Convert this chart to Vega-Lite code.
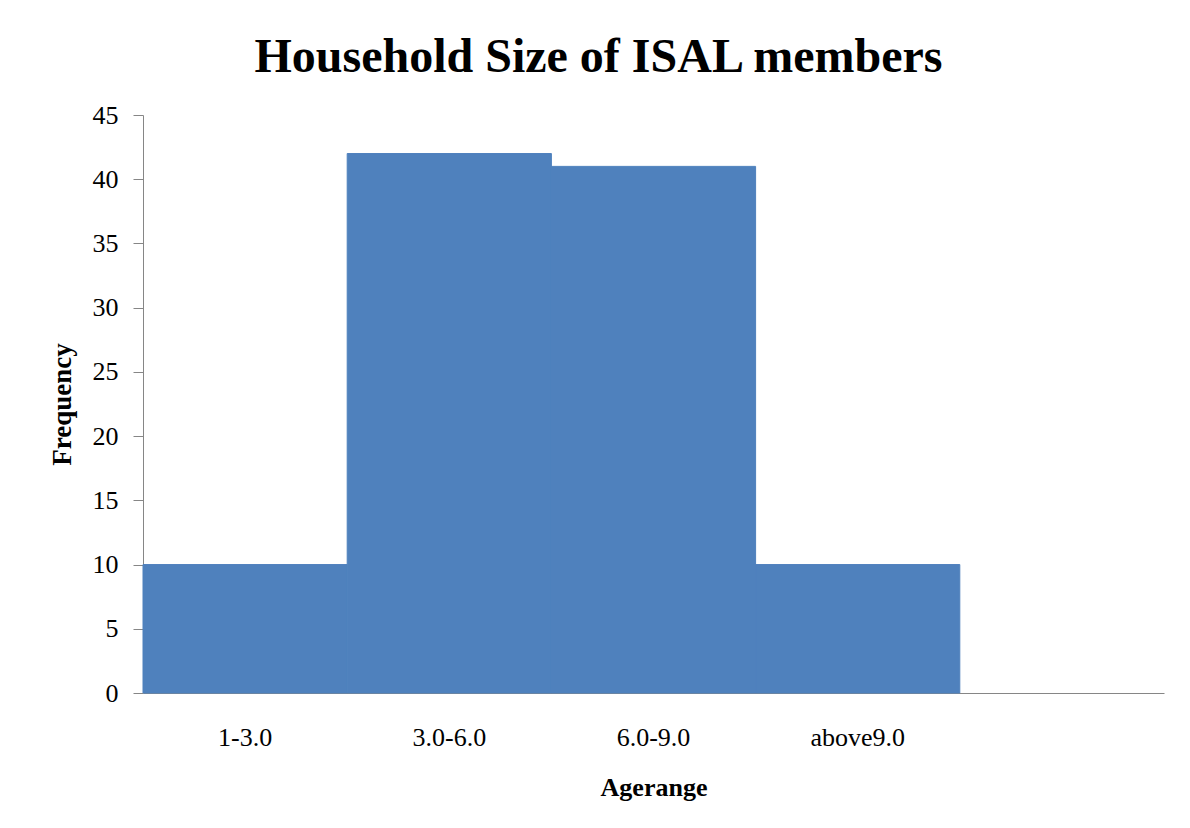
{
  "$schema": "https://vega.github.io/schema/vega-lite/v6.json",
  "width": 1021,
  "height": 578,
  "autosize": {"type": "none"},
  "padding": {"left": 143, "top": 115, "right": 26, "bottom": 135},
  "background": "white",
  "title": {
    "text": "Household Size of ISAL members",
    "font": "Liberation Serif",
    "fontSize": 48,
    "fontWeight": "bold",
    "color": "black",
    "anchor": "middle",
    "dx": -55,
    "offset": 20
  },
  "data": {
    "values": [
      {"range": "1-3.0", "freq": 10},
      {"range": "3.0-6.0", "freq": 42},
      {"range": "6.0-9.0", "freq": 41},
      {"range": "above9.0", "freq": 10}
    ]
  },
  "mark": {"type": "bar", "color": "#4F81BD", "stroke": "#4F81BD", "strokeWidth": 1},
  "encoding": {
    "x": {
      "field": "range",
      "type": "nominal",
      "scale": {"domain": ["1-3.0", "3.0-6.0", "6.0-9.0", "above9.0", " "], "paddingInner": 0, "paddingOuter": 0},
      "axis": {
        "title": "Agerange",
        "labelAngle": 0,
        "ticks": false,
        "labelPadding": 31,
        "titlePadding": 24,
        "domainColor": "#868686",
        "labelFont": "Liberation Serif",
        "labelFontSize": 26,
        "labelColor": "black",
        "titleFont": "Liberation Serif",
        "titleFontSize": 26,
        "titleFontWeight": "bold",
        "titleColor": "black"
      }
    },
    "y": {
      "field": "freq",
      "type": "quantitative",
      "scale": {"domain": [0, 45], "nice": false},
      "axis": {
        "title": "Frequency",
        "values": [0, 5, 10, 15, 20, 25, 30, 35, 40, 45],
        "grid": false,
        "tickSize": 10,
        "tickColor": "#868686",
        "domainColor": "#868686",
        "labelPadding": 15,
        "titlePadding": 16,
        "labelFont": "Liberation Serif",
        "labelFontSize": 26,
        "labelColor": "black",
        "titleFont": "Liberation Serif",
        "titleFontSize": 27,
        "titleFontWeight": "bold",
        "titleColor": "black"
      }
    }
  },
  "config": {"view": {"stroke": null}}
}
